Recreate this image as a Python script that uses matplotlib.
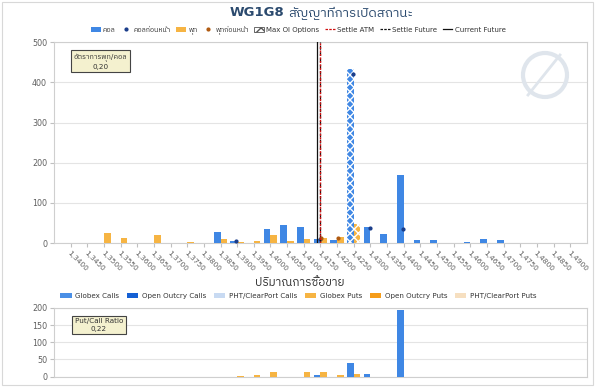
import matplotlib
matplotlib.use("Agg")
import matplotlib.pyplot as plt
import matplotlib.font_manager as fm
from matplotlib.ft2font import FT2Font
from matplotlib.patches import Patch, Ellipse, Rectangle
from matplotlib.lines import Line2D
import numpy as np

# find an installed family that has Thai glyphs
thai_fams = []
for f in fm.fontManager.ttflist:
    try:
        cm = FT2Font(f.fname).get_charmap()
        if 0x0E01 in cm and 0x0E2A in cm and 0x0E4C in cm:
            thai_fams.append(f.name)
    except Exception:
        pass
thai_fams = sorted(set(thai_fams), key=lambda n: (0 if 'Sans' in n else 1, n))
families = ['DejaVu Sans'] + thai_fams[:2]
plt.rcParams['font.family'] = families
plt.rcParams['hatch.linewidth'] = 1.0

strikes = ["1,3400", "1,3450", "1,3500", "1,3550", "1,3600", "1,3650", "1,3700", "1,3750",
           "1,3800", "1,3850", "1,3900", "1,3950", "1,4000", "1,4050", "1,4100", "1,4150",
           "1,4200", "1,4250", "1,4300", "1,4350", "1,4400", "1,4450", "1,4500", "1,4550",
           "1,4600", "1,4650", "1,4700", "1,4750", "1,4800", "1,4850", "1,4900"]

oi_calls = [0, 0, 0, 0, 0, 0, 0, 0, 0, 27, 4, 0, 35, 44, 41, 11, 7, 432, 39, 22, 169, 7, 7, 0, 1.5, 11, 7, 0, 0, 0, 0]
oi_puts = [0, 0, 24, 12, 0, 20, 0, 1.5, 0, 10, 2, 6, 20, 4, 9, 13, 15, 47, 0, 0, 0, 0, 0, 0, 0, 0, 0, 0, 0, 0, 0]
prev_calls_idx = [10, 15, 17, 18, 20]
prev_calls_val = [4, 10, 420, 37, 34]
prev_puts_idx = [15, 16]
prev_puts_val = [12, 12]
max_oi_idx = 17

vol_globex_calls = [0, 0, 0, 0, 0, 0, 0, 0, 0, 0, 0, 0, 0, 0, 0, 4, 0, 40, 8, 0, 195, 0, 0, 0, 0, 0, 0, 0, 0, 0, 0]
vol_globex_puts = [0, 0, 0, 0, 0, 0, 0, 0, 0, 0, 1, 6, 14, 0, 13, 14, 4, 7, 0, 0, 0, 0, 0, 0, 0, 0, 0, 0, 0, 0, 0]

settle_atm = 15.0
settle_future = 15.0
current_future = 14.78
put_call_oi = "0,20"
put_call_vol = "0,22"

blue = '#3f87e4'
orange = '#f6b443'
grid_c = '#e4e4e4'
tick_c = '#606060'

fig = plt.figure(figsize=(6, 3.87), dpi=100)
fig.patch.set_facecolor('white')

x = np.arange(len(strikes))
w = 0.4

# ---------- top chart ----------
ax = fig.add_axes([0.09, 0.372, 0.888, 0.519])
for i in x:
    if i == max_oi_idx:
        ax.bar(i - w / 2, oi_calls[i], w, color=blue, edgecolor='white', hatch='xxxx', linewidth=0, zorder=3)
        ax.bar(i + w / 2, oi_puts[i], w, color=orange, edgecolor='white', hatch='xxxx', linewidth=0, zorder=3)
    else:
        ax.bar(i - w / 2, oi_calls[i], w, color=blue, linewidth=0, zorder=3)
        ax.bar(i + w / 2, oi_puts[i], w, color=orange, linewidth=0, zorder=3)
ax.scatter(np.array(prev_calls_idx) - w / 2 + 0.15, prev_calls_val, s=4, color='#1a3d8a', zorder=4)
ax.scatter(np.array(prev_puts_idx) + w / 2 - 0.15, prev_puts_val, s=4, color='#b05a10', zorder=4)

ax.axvline(current_future, color='#111111', lw=0.9, zorder=5)
ax.axvline(settle_future, color='#111111', lw=0.9, ls=(0, (3, 2)), zorder=5)
ax.axvline(settle_atm, color='#d01010', lw=1.0, ls=(0, (1.5, 1)), zorder=6)

ax.set_xlim(-1, 31)
ax.set_ylim(0, 500)
ax.set_yticks([0, 100, 200, 300, 400, 500])
ax.yaxis.grid(True, color=grid_c, lw=0.8, zorder=0)
ax.set_axisbelow(True)
ax.set_xticks(x)
ax.set_xticklabels(strikes, rotation=-45, ha='left', va='top', rotation_mode='anchor', fontsize=5.4, color=tick_c)
ax.tick_params(axis='x', length=3, color='#c0c0c0', pad=2)
ax.tick_params(axis='y', length=3, color='#c0c0c0', labelsize=5.8, labelcolor=tick_c, pad=2)
for s in ax.spines.values():
    s.set_color('#cfcfcf')
    s.set_linewidth(0.8)

fig.text(0.168, 0.84, "อัตราการพุท/คอล\n" + put_call_oi, ha='center', va='center', fontsize=5.2,
         color='#333333', linespacing=1.3,
         bbox=dict(boxstyle='square,pad=0.35', fc='#f4f1cf', ec='#444444', lw=0.8))

# watermark
fig.add_artist(Ellipse((545 / 600, 1 - 75 / 387), 44 / 600, 44 / 387, fill=False, ec='#dfe5ec', lw=3,
                       transform=fig.transFigure))
fig.add_artist(Line2D([528 / 600, 560 / 600], [1 - 95 / 387, 1 - 55 / 387], color='#dfe5ec', lw=2,
                      transform=fig.transFigure))

# title (two pieces: bold code + Thai text)
fig.text(284 / 600, 1 - 13 / 387, "WG1G8", ha='right', va='center', fontsize=9.5, fontweight='bold',
         color='#2b4a6e')
fig.text(288 / 600, 1 - 13 / 387, "สัญญาที่การเปิดสถานะ", ha='left', va='center', fontsize=9.5,
         color='#2b4a6e')

leg_handles = [
    Patch(facecolor=blue, edgecolor='none'),
    Line2D([], [], marker='o', ls='none', color='#1a3d8a', markersize=2),
    Patch(facecolor=orange, edgecolor='none'),
    Line2D([], [], marker='o', ls='none', color='#b05a10', markersize=2),
    Patch(facecolor='white', edgecolor='#555555', hatch='xxx', lw=0.6),
    Line2D([], [], color='#d01010', ls=(0, (2, 1)), lw=0.9),
    Line2D([], [], color='#111111', ls=(0, (2, 1)), lw=0.9),
    Line2D([], [], color='#111111', lw=0.9),
]
leg_labels = ["คอล", "คอลก่อนหน้า", "พุท", "พุทก่อนหน้า", "Max OI Options", "Settle ATM", "Settle Future",
              "Current Future"]
fig.legend(leg_handles, leg_labels, loc='center', bbox_to_anchor=(0.497, 1 - 30 / 387), ncol=8, frameon=False,
           fontsize=5.0, handlelength=1.4, handleheight=0.8, columnspacing=0.8, handletextpad=0.35,
           labelcolor='#333333')

# ---------- bottom chart ----------
fig.text(0.5, 1 - 283 / 387, "ปริมาณการซื้อขาย", ha='center', va='center', fontsize=8.5, color='#333333')

bx = fig.add_axes([0.09, 0.0266, 0.888, 0.178])
bx.bar(x - w / 2, vol_globex_calls, w, color=blue, linewidth=0, zorder=3)
bx.bar(x + w / 2, vol_globex_puts, w, color=orange, linewidth=0, zorder=3)
bx.set_xlim(-1, 31)
bx.set_ylim(0, 200)
bx.set_yticks([0, 50, 100, 150, 200])
bx.yaxis.grid(True, color=grid_c, lw=0.8, zorder=0)
bx.set_axisbelow(True)
bx.set_xticks([])
bx.tick_params(axis='y', length=3, color='#c0c0c0', labelsize=5.8, labelcolor=tick_c, pad=2)
for s in bx.spines.values():
    s.set_color('#cfcfcf')
    s.set_linewidth(0.8)

fig.text(0.165, 0.16, "Put/Call Ratio\n" + put_call_vol, ha='center', va='center', fontsize=5.2,
         color='#333333', linespacing=1.3,
         bbox=dict(boxstyle='square,pad=0.35', fc='#f4f1cf', ec='#444444', lw=0.8))

vol_handles = [Patch(facecolor='#4a8fe6'), Patch(facecolor='#1560d4'), Patch(facecolor='#c8daf2'),
               Patch(facecolor='#f6b443'), Patch(facecolor='#f59c1a'), Patch(facecolor='#f6dfc0')]
vol_labels = ["Globex Calls", "Open Outcry Calls", "PHT/ClearPort Calls", "Globex Puts", "Open Outcry Puts",
              "PHT/ClearPort Puts"]
fig.legend(vol_handles, vol_labels, loc='center', bbox_to_anchor=(0.497, 1 - 296 / 387), ncol=6, frameon=False,
           fontsize=5.1, handlelength=1.6, handleheight=0.8, columnspacing=1.1, handletextpad=0.5,
           labelcolor='#333333')

# panel border
fig.add_artist(Rectangle((0.003, 0.005), 0.985, 0.99, fill=False, ec='#d8d8d8', lw=0.8,
                         transform=fig.transFigure))

fig.savefig("out.png", dpi=100)
